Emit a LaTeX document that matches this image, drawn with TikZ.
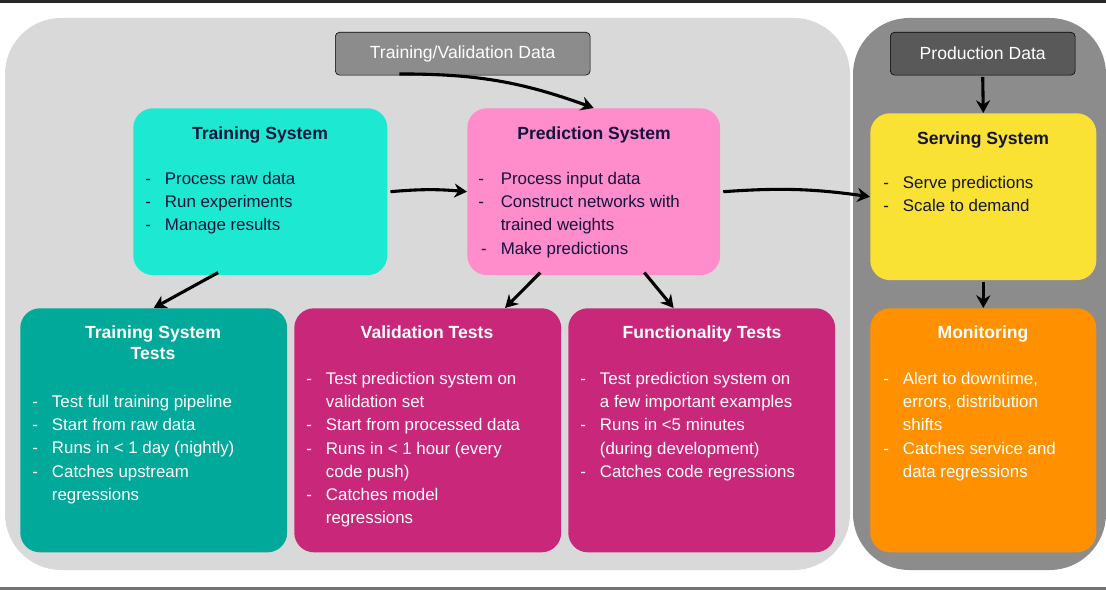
\documentclass[tikz,border=0pt]{standalone}
\usepackage{fontspec}
\setmainfont{Liberation Sans}
\usetikzlibrary{positioning,arrows.meta}
\definecolor{cyanbox}{HTML}{1DE9D2}
\definecolor{pinkbox}{HTML}{FF8CCB}
\definecolor{yellowbox}{HTML}{F9E233}
\definecolor{tealbox}{HTML}{00A99A}
\definecolor{magbox}{HTML}{C9287A}
\definecolor{orangebox}{HTML}{FF9100}
\definecolor{navy}{HTML}{14143C}
\tikzset{
  box/.style={rounded corners=14pt, anchor=north west, inner sep=0pt},
  title/.style={font=\fontsize{12.5}{15}\selectfont\bfseries, align=center, anchor=north},
  list/.style={font=\fontsize{12}{16.5}\selectfont, align=left, anchor=north west, inner sep=0pt},
  datab/.style={draw=black, rounded corners=3pt, text=white, font=\fontsize{12.5}{15}\selectfont, anchor=north west, inner sep=0pt},
  flow/.style={-{Stealth[length=9pt,width=10pt]}, line width=2.2pt, black}
}
\newcommand{\lst}[1]{\begin{tabular}{@{}l@{\hspace{10pt}}l@{}}#1\end{tabular}}
\begin{document}
\begin{tikzpicture}[x=0.025cm, y=-0.025cm]
\useasboundingbox (0,0) rectangle (1106,590);
\fill[black!85] (0,0) rectangle (1106,3);
\fill[black!55] (0,587) rectangle (1106,590);
% regions
\fill[black!15, rounded corners=40pt] (5,18) rectangle (850,570);
\fill[black!45, rounded corners=40pt] (853,18) rectangle (1106,570);
% data sources
\node[datab, fill=black!45, minimum width=6.37cm, minimum height=1.07cm] (tvdata) at (335,32) {Training/Validation Data};
\node[datab, fill=black!65, minimum width=4.62cm, minimum height=1.07cm] (proddata) at (890,32) {Production Data};
% upper systems
\node[box, fill=cyanbox, minimum width=6.35cm, minimum height=4.17cm] (train) at (133,108) {};
\node[box, fill=pinkbox, minimum width=6.32cm, minimum height=4.17cm] (pred) at (467,108) {};
\node[box, fill=yellowbox, minimum width=5.65cm, minimum height=4.17cm] (serve) at (870,113) {};
\node[title, text=navy] at (260,122) {Training System};
\node[title, text=navy] at (594,122) {Prediction System};
\node[title, text=navy] at (983,127) {Serving System};
\node[list, text=navy] at (145,168) {\lst{- & Process raw data\\ - & Run experiments\\ - & Manage results}};
\node[list, text=navy] at (478,168) {\lst{- & Process input data\\ - & Construct networks with\\ & trained weights\\ \kern2pt- & Make predictions}};
\node[list, text=navy] at (883,172) {\lst{- & Serve predictions\\ - & Scale to demand}};
% tests
\node[box, fill=tealbox, minimum width=6.67cm, minimum height=6.1cm] (traintests) at (20,308) {};
\node[box, fill=magbox, minimum width=6.67cm, minimum height=6.1cm] (valtests) at (294,308) {};
\node[box, fill=magbox, minimum width=6.67cm, minimum height=6.1cm] (functests) at (568,308) {};
\node[box, fill=orangebox, minimum width=5.65cm, minimum height=6.1cm] (monitor) at (870,308) {};
\node[title, text=white] at (153,321) {Training System\\Tests};
\node[title, text=white] at (427,321) {Validation Tests};
\node[title, text=white] at (702,321) {Functionality Tests};
\node[title, text=white] at (983,321) {Monitoring};
\node[list, text=white] at (32,391) {\lst{- & Test full training pipeline\\ - & Start from raw data\\ - & Runs in < 1 day (nightly)\\ - & Catches upstream\\ & regressions}};
\node[list, text=white] at (306,368) {\lst{- & Test prediction system on\\ & validation set\\ - & Start from processed data\\ - & Runs in < 1 hour (every\\ & code push)\\ - & Catches model\\ & regressions}};
\node[list, text=white] at (580,368) {\lst{- & Test prediction system on\\ & a few important examples\\ - & Runs in <5 minutes\\ & (during development)\\ - & Catches code regressions}};
\node[list, text=white] at (883,368) {\lst{- & Alert to downtime,\\ & errors, distribution\\ & shifts\\ - & Catches service and\\ & data regressions}};
% connectors
\draw[flow] (tvdata.south) ++(-45pt,1pt) coordinate (a1) (a1) to[bend left=10] (pred.north);
\draw[flow] (train.east) ++(2pt,0) coordinate (a2) (a2) to[bend left=5] (pred.west);
\draw[flow] (pred.east) ++(2pt,0) coordinate (a3) (a3) to[bend left=6] (serve.west);
\draw[flow] (train.south) ++(-30pt,2pt) coordinate (a4) (a4) -- (traintests.north);
\draw[flow] (pred.south) ++(-38pt,2pt) coordinate (a5) (a5) -- ([xshift=55pt]valtests.north);
\draw[flow] (pred.south) ++(36pt,2pt) coordinate (a6) (a6) -- ([xshift=-20pt]functests.north);
\draw[flow] (proddata.south) ++(0,-1pt) coordinate (a7) (a7) -- (serve.north);
\draw[flow] (serve.south) ++(0,-1pt) coordinate (a8) (a8) -- (monitor.north);
\end{tikzpicture}
\end{document}
